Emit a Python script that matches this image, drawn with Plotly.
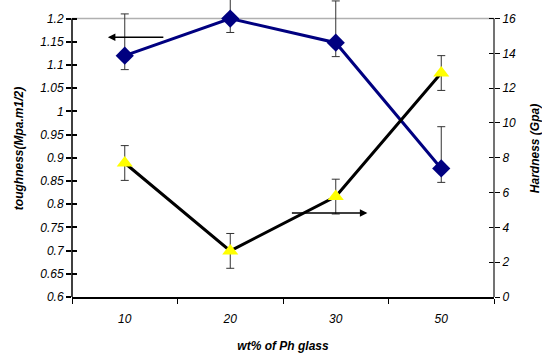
import plotly.graph_objects as go

categories = ["10", "20", "30", "50"]
toughness = [1.12, 1.20, 1.148, 0.877]
tough_err_plus = [0.09, 0.09, 0.09, 0.09]
tough_err_minus = [0.03, 0.03, 0.03, 0.03]
hardness = [7.7, 2.65, 5.77, 12.87]
hard_err = [1.0, 1.0, 1.0, 1.0]

left_ticks = [0.6, 0.65, 0.7, 0.75, 0.8, 0.85, 0.9, 0.95, 1.0, 1.05, 1.1, 1.15, 1.2]
left_labels = ["0.6", "0.65", "0.7", "0.75", "0.8", "0.85", "0.9", "0.95", "1", "1.05", "1.1", "1.15", "1.2"]
right_ticks = [0, 2, 4, 6, 8, 10, 12, 14, 16]

LEFT_MIN, LEFT_MAX, LEFT_TOP = 0.6, 1.2, 1.24
RIGHT_MIN, RIGHT_MAX = 0, 16
RIGHT_TOP = RIGHT_MAX * (LEFT_TOP - LEFT_MIN) / (LEFT_MAX - LEFT_MIN)

FONT = "Liberation Sans, Arial, sans-serif"
tickfont = dict(family=FONT, size=12, color="#000", style="italic")
titlefont = dict(family=FONT, size=12, color="#000", style="italic", weight="bold")

fig = go.Figure()

fig.add_trace(go.Scatter(
    x=categories, y=toughness, mode="lines+markers", yaxis="y",
    line=dict(color="#000080", width=3),
    marker=dict(symbol="diamond", size=14, color="#000080"),
    error_y=dict(type="data", array=tough_err_plus, arrayminus=tough_err_minus,
                 color="#333", thickness=1, width=4),
    cliponaxis=False, showlegend=False))

fig.add_trace(go.Scatter(
    x=categories, y=hardness, mode="lines+markers", yaxis="y2",
    line=dict(color="#000000", width=3),
    marker=dict(symbol="triangle-up", size=14, color="#ffff00"),
    error_y=dict(type="data", array=hard_err, color="#333", thickness=1, width=4),
    cliponaxis=False, showlegend=False))

# helper traces for inner tick halves
fig.add_trace(go.Scatter(x=categories, y=toughness, yaxis="y3", mode="lines",
                         line=dict(width=0), hoverinfo="skip", showlegend=False))
fig.add_trace(go.Scatter(x=categories, y=hardness, yaxis="y4", mode="lines",
                         line=dict(width=0), hoverinfo="skip", showlegend=False))

fig.update_layout(
    width=542, height=356,
    margin=dict(l=72, r=48, t=0, b=59),
    paper_bgcolor="white", plot_bgcolor="white",
    xaxis=dict(type="category", range=[-0.5, 3.5], tickson="boundaries",
               ticks="outside", ticklen=5, tickwidth=1, tickcolor="#000",
               showline=True, linecolor="#000", linewidth=2,
               showgrid=False, zeroline=False, tickfont=tickfont,
               ticklabelstandoff=10,
               title=dict(text="wt% of Ph glass", font=titlefont, standoff=16)),
    yaxis=dict(range=[LEFT_MIN, LEFT_TOP], tickvals=left_ticks, ticktext=left_labels,
               ticks="outside", ticklen=5, tickwidth=2, tickcolor="#000",
               showline=False, showgrid=False, zeroline=False, tickfont=tickfont,
               title=dict(text="toughness(Mpa.m1/2)", font=titlefont, standoff=14)),
    yaxis2=dict(range=[RIGHT_MIN, RIGHT_TOP], tickvals=right_ticks, overlaying="y", side="right",
                ticks="outside", ticklen=5, tickwidth=1, tickcolor="#000",
                showline=False, showgrid=False, zeroline=False, tickfont=tickfont,
                title=dict(text="Hardness (Gpa)", font=titlefont, standoff=15)),
    yaxis3=dict(range=[LEFT_MIN, LEFT_TOP], tickvals=left_ticks, overlaying="y", side="left",
                ticks="inside", ticklen=5, tickwidth=2, tickcolor="#000",
                showticklabels=False, showline=False, showgrid=False, zeroline=False),
    yaxis4=dict(range=[RIGHT_MIN, RIGHT_TOP], tickvals=right_ticks, overlaying="y", side="right",
                ticks="inside", ticklen=5, tickwidth=1, tickcolor="#000",
                showticklabels=False, showline=False, showgrid=False, zeroline=False),
    shapes=[
        dict(type="line", xref="paper", yref="y", x0=0, x1=1, y0=LEFT_MAX, y1=LEFT_MAX,
             line=dict(color="#b0b0b0", width=1.5), layer="below"),
        dict(type="line", xref="paper", yref="y", x0=0, x1=0, y0=LEFT_MIN, y1=LEFT_MAX,
             line=dict(color="#000", width=1.5), layer="above"),
        dict(type="line", xref="paper", yref="y", x0=1, x1=1, y0=LEFT_MIN, y1=LEFT_MAX,
             line=dict(color="#444", width=1.5), layer="above"),
    ],
    annotations=[
        dict(x=-0.16, y=1.16, ax=0.38, ay=1.16, xref="x", yref="y", axref="x", ayref="y",
             text="", showarrow=True, arrowhead=2, arrowsize=1, arrowwidth=1.5,
             arrowcolor="#000"),
        dict(x=2.3, y=4.83, ax=1.57, ay=4.83, xref="x", yref="y2", axref="x", ayref="y2",
             text="", showarrow=True, arrowhead=2, arrowsize=1, arrowwidth=1.5,
             arrowcolor="#000"),
    ],
)

fig.write_html("out.html")
